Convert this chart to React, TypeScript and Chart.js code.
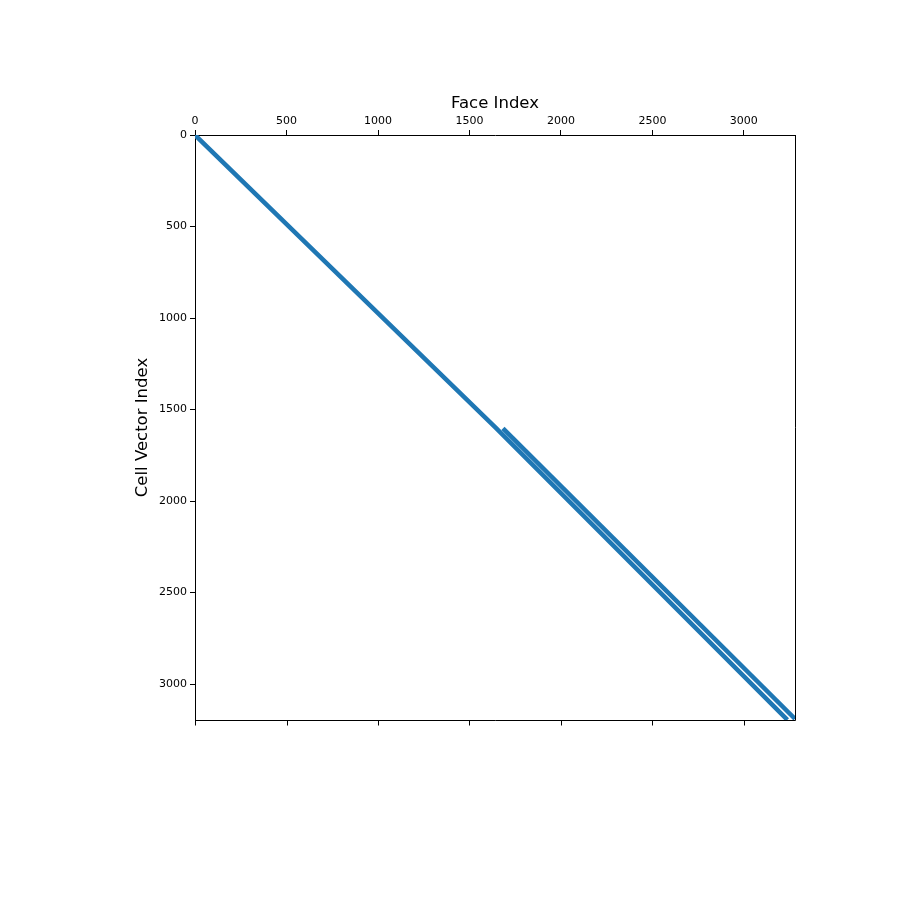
import React, { useEffect, useRef } from "react";
import { Chart, registerables } from "chart.js";

Chart.register(...registerables);

// Sparse-matrix (spy) structure: each band as (face index, cell row) anchors
const mainBandFaces = [0, 1300, 1640, 3238];
const mainBandCells = [0, 1265, 1596, 3196];
const upperBandFaces = [1683, 3279.5];
const upperBandCells = [1603, 3190];

const faceTicks = [0, 500, 1000, 1500, 2000, 2500, 3000];
const cellTicks = [0, 500, 1000, 1500, 2000, 2500, 3000];

const nFaces = 3280;
const nCells = 3197;

const xTitle = "Face Index";
const yTitle = "Cell Vector Index";

const BLUE = "#1f77b4";
const FONT = "'DejaVu Sans', sans-serif";

export default function App() {
  const ref = useRef<HTMLCanvasElement | null>(null);

  useEffect(() => {
    if (!ref.current) return;
    const toPts = (xs: number[], ys: number[]) => xs.map((x, i) => ({ x, y: ys[i] }));
    const setTicks = (vals: number[]) => (s: any) => {
      s.ticks = vals.map((v) => ({ value: v }));
    };
    const plain = (v: any) => String(v);
    const band = (xs: number[], ys: number[]) =>
      ({
        data: toPts(xs, ys),
        showLine: true,
        borderColor: BLUE,
        backgroundColor: BLUE,
        borderWidth: 4.5,
        pointRadius: 0,
        pointHoverRadius: 0,
        pointBorderWidth: 0,
        borderCapStyle: "butt",
        clip: 0,
        xAxisID: "x",
        yAxisID: "y",
      } as any);

    // draws the right & bottom spines and the (unlabelled) bottom tick marks, like matplotlib's frame
    const framePlugin = {
      id: "frame",
      afterDraw(chart: any) {
        const { ctx, chartArea } = chart;
        const xs = chart.scales.x;
        ctx.save();
        ctx.strokeStyle = "#000";
        ctx.lineWidth = 1;
        ctx.beginPath();
        const r = Math.round(chartArea.right) + 0.5;
        const b = Math.round(chartArea.bottom) + 0.5;
        ctx.moveTo(r, Math.round(chartArea.top));
        ctx.lineTo(r, b);
        ctx.moveTo(Math.round(chartArea.left), b);
        ctx.lineTo(r, b);
        for (const v of faceTicks) {
          const px = Math.round(xs.getPixelForValue(v)) + 0.5;
          ctx.moveTo(px, b);
          ctx.lineTo(px, b + 5);
        }
        ctx.stroke();
        ctx.restore();
      },
    };

    const chart = new Chart(ref.current, {
      type: "scatter",
      data: {
        datasets: [band(mainBandFaces, mainBandCells), band(upperBandFaces, upperBandCells)],
      },
      plugins: [framePlugin],
      options: {
        animation: false,
        responsive: false,
        maintainAspectRatio: false,
        events: [],
        layout: { padding: { left: 0, top: 0, right: 105, bottom: 180 } },
        plugins: { legend: { display: false }, tooltip: { enabled: false } },
        scales: {
          x: {
            type: "linear",
            position: "top",
            min: -0.5,
            max: nFaces - 0.5,
            afterBuildTicks: setTicks(faceTicks),
            afterFit: (s: any) => {
              s.height = 135;
            },
            ticks: {
              color: "#000",
              font: { family: FONT, size: 11 },
              padding: 2,
              maxRotation: 0,
              autoSkip: false,
              callback: plain,
            },
            grid: { drawOnChartArea: false, drawTicks: true, tickLength: 5, color: "#000", tickColor: "#000" },
            border: { display: true, color: "#000", width: 1 },
            title: {
              display: true,
              text: xTitle,
              color: "#000",
              font: { family: FONT, size: 16.5 },
              padding: { top: 94, bottom: 0 },
            },
          },
          y: {
            type: "linear",
            position: "left",
            reverse: true,
            min: -0.5,
            max: nCells - 0.5,
            afterBuildTicks: setTicks(cellTicks),
            afterFit: (s: any) => {
              s.width = 195;
            },
            ticks: {
              color: "#000",
              font: { family: FONT, size: 11 },
              padding: 3,
              autoSkip: false,
              callback: plain,
            },
            grid: { drawOnChartArea: false, drawTicks: true, tickLength: 5, color: "#000", tickColor: "#000" },
            border: { display: true, color: "#000", width: 1 },
            title: {
              display: true,
              text: yTitle,
              color: "#000",
              font: { family: FONT, size: 16.5 },
              padding: { top: 133, bottom: 0 },
            },
          },
        },
      },
    });
    return () => chart.destroy();
  }, []);

  return (
    <div style={{ position: "absolute", left: 0, top: 0, width: 900, height: 900, background: "#fff" }}>
      <canvas ref={ref} width={900} height={900} style={{ width: 900, height: 900 }} />
    </div>
  );
}
